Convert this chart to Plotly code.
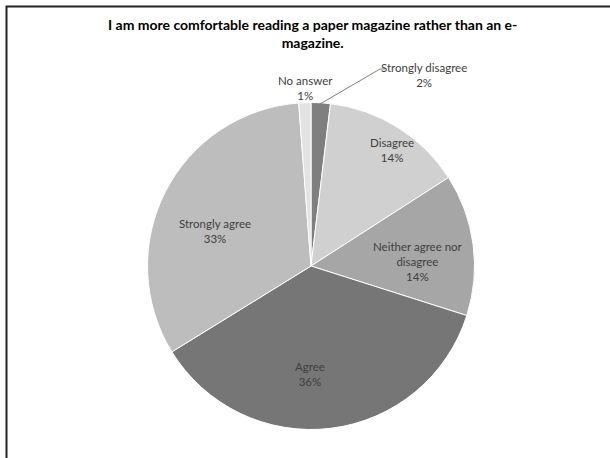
import plotly.graph_objects as go

W, H = 610, 458

categories = ["Strongly disagree", "Disagree", "Neither agree nor disagree",
              "Agree", "Strongly agree", "No answer"]
values = [1.9, 14.0, 14.0, 36.3, 32.6, 1.2]
colors = ["#7f7f7f", "#d0d0d0", "#a6a6a6", "#767676", "#bdbdbd", "#e3e3e3"]

# label display text (line-broken like the original)
label_text = ["Strongly disagree", "Disagree", "Neither agree nor<br>disagree",
              "Agree", "Strongly agree", "No answer"]
# label centres in pixels
label_px = [(424, 75), (392, 150), (418, 261), (310, 374), (215, 231), (305, 88)]

title = "I am more comfortable reading a paper magazine rather than an e-<br>magazine."

cx, cy, R = 311, 266, 163.5

total = sum(values)
fig = go.Figure(go.Pie(
    labels=categories,
    values=values,
    sort=False,
    direction="clockwise",
    rotation=0,
    marker=dict(colors=colors, line=dict(color="white", width=1)),
    textinfo="none",
    hoverinfo="label+percent",
    showlegend=False,
    domain=dict(x=[(cx - R) / W, (cx + R) / W],
                y=[1 - (cy + R) / H, 1 - (cy - R) / H]),
))

annotations = []
for lab, v, (px, py) in zip(label_text, values, label_px):
    pct = round(v / total * 100)
    annotations.append(dict(
        x=px / W, y=1 - py / H, xref="paper", yref="paper",
        text=f"{lab}<br>{pct}%", showarrow=False,
        font=dict(family="Lato, Carlito, sans-serif", size=11.5, color="#404040"),
        xanchor="center", yanchor="middle", align="center",
    ))
annotations.append(dict(
    x=313 / W, y=1 - 33 / H, xref="paper", yref="paper",
    text=f"<b>{title}</b>", showarrow=False,
    font=dict(family="Lato, Carlito, sans-serif", size=14, color="#000000"),
    xanchor="center", yanchor="middle", align="center",
))

def px2paper(x, y):
    return x / W, 1 - y / H

p1 = px2paper(320, 104)
p2 = px2paper(380, 69)
p3 = px2paper(385, 69)
shapes = [
    dict(type="path", xref="paper", yref="paper",
         path=f"M {p1[0]} {p1[1]} L {p2[0]} {p2[1]} L {p3[0]} {p3[1]}",
         line=dict(color="#7f7f7f", width=1)),
    # outer chart border (extends past the right/bottom edge)
    dict(type="rect", xref="paper", yref="paper",
         x0=6.5 / W, y0=1 - 470 / H, x1=640 / W, y1=1 - 6.5 / H,
         line=dict(color="#222222", width=2), fillcolor="rgba(0,0,0,0)"),
]

fig.update_layout(
    width=W, height=H,
    margin=dict(l=0, r=0, t=0, b=0),
    paper_bgcolor="white",
    plot_bgcolor="white",
    annotations=annotations,
    shapes=shapes,
)

fig.write_html("out.html",
               config={"displayModeBar": False},
               post_script="document.body.style.margin='0';document.body.style.overflow='hidden';")
